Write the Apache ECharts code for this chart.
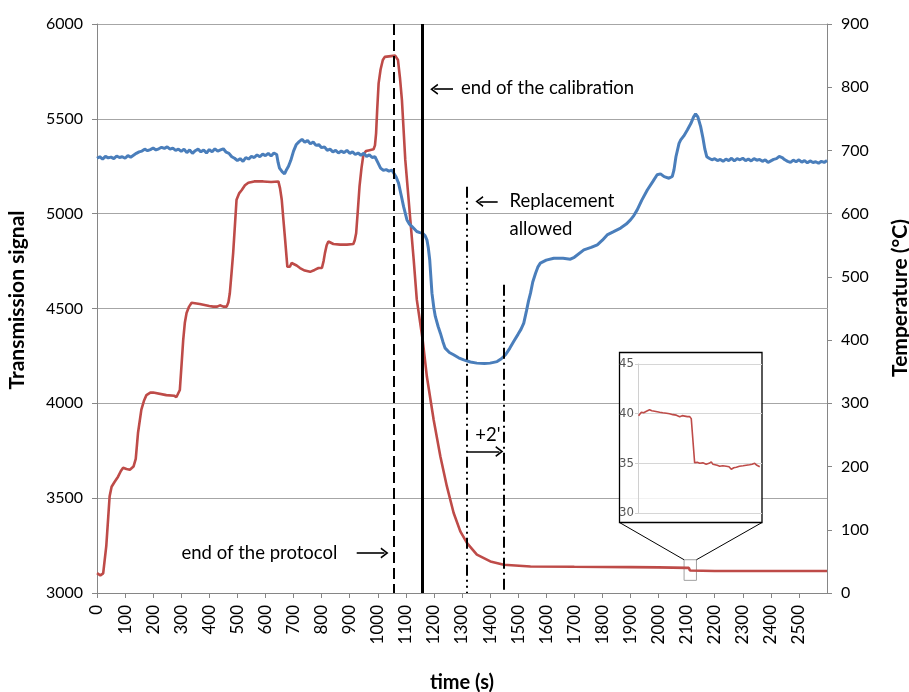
<!DOCTYPE html>
<html>
<head>
<meta charset="utf-8">
<script src="https://cdn.jsdelivr.net/npm/echarts@6/dist/echarts.min.js"></script>
<style>
html,body{margin:0;padding:0;background:#fff;}
#chart{width:909px;height:692px;}
</style>
</head>
<body>
<div id="chart"></div>
<script>
// ---- data (time in s) ----
const transmission = [
[0,5292],[10,5300],[20,5288],[30,5302],[40,5294],[50,5298],[60,5290],[70,5304],[80,5296],[90,5300],
[100,5292],[110,5306],[120,5298],[130,5308],[140,5318],[150,5326],[160,5330],[170,5340],[180,5332],[190,5338],
[200,5346],[210,5336],[220,5342],[230,5350],[240,5344],[250,5352],[260,5340],[270,5346],[280,5334],[290,5340],
[300,5328],[310,5340],[320,5322],[330,5336],[340,5318],[350,5332],[360,5340],[370,5326],[380,5336],[390,5320],
[400,5338],[410,5326],[420,5342],[430,5330],[440,5336],[450,5342],[460,5324],[470,5318],[480,5300],[490,5292],
[500,5280],[510,5290],[520,5276],[530,5296],[540,5288],[550,5302],[560,5296],[570,5310],[580,5300],[590,5314],
[600,5306],[610,5318],[620,5304],[630,5320],[640,5312],[645,5270],[650,5240],[660,5220],[668,5210],[675,5232],
[682,5250],[690,5280],[700,5330],[710,5365],[720,5380],[730,5392],[740,5376],[750,5386],[760,5368],[770,5378],
[780,5360],[790,5364],[800,5348],[810,5352],[820,5334],[830,5340],[840,5326],[850,5334],[860,5320],[870,5330],
[880,5322],[890,5334],[900,5318],[910,5326],[920,5312],[930,5320],[940,5308],[950,5318],[960,5302],[970,5310],
[980,5296],[990,5300],[1000,5270],[1010,5240],[1020,5228],[1030,5232],[1040,5224],[1050,5230],[1056,5222],[1065,5195],
[1074,5161],[1083,5100],[1092,5037],[1104,4967],[1113,4945],[1122,4932],[1139,4906],[1150,4900],[1160,4897],[1168,4885],
[1175,4862],[1180,4820],[1185,4757],[1193,4581],[1200,4500],[1205,4458],[1215,4405],[1223,4370],[1232,4325],[1240,4291],
[1255,4268],[1270,4256],[1288,4240],[1306,4229],[1330,4218],[1353,4212],[1380,4210],[1400,4212],[1425,4220],[1440,4235],
[1455,4256],[1470,4290],[1484,4326],[1500,4365],[1510,4390],[1520,4423],[1530,4490],[1537,4540],[1544,4581],[1552,4640],
[1562,4686],[1570,4718],[1579,4739],[1600,4755],[1627,4765],[1660,4765],[1686,4760],[1700,4770],[1734,4809],[1760,4822],
[1782,4836],[1800,4860],[1817,4888],[1840,4905],[1865,4924],[1885,4945],[1900,4967],[1912,4990],[1924,5020],[1940,5070],
[1960,5125],[1980,5170],[1995,5205],[2007,5210],[2020,5195],[2037,5187],[2049,5196],[2055,5231],[2062,5300],[2073,5371],
[2079,5389],[2090,5410],[2103,5442],[2115,5475],[2125,5510],[2132,5526],[2140,5510],[2150,5459],[2158,5400],[2165,5340],
[2172,5300],[2180,5292],[2190,5284],[2200,5290],[2210,5280],[2220,5286],[2230,5276],[2240,5288],[2250,5280],[2260,5292],
[2270,5278],[2280,5290],[2290,5284],[2300,5292],[2310,5280],[2320,5288],[2330,5278],[2340,5290],[2350,5282],[2360,5286],
[2370,5276],[2380,5284],[2390,5270],[2400,5278],[2410,5286],[2420,5290],[2430,5302],[2440,5296],[2450,5284],[2460,5276],
[2470,5270],[2480,5282],[2490,5274],[2500,5284],[2510,5272],[2520,5280],[2530,5268],[2540,5278],[2550,5270],[2560,5274],
[2570,5266],[2580,5276],[2590,5270],[2600,5280]
];

const temperature = [
[0,31.5],[12,28],[22,31],[33,74],[40,120],[45,153],[52,168],[63,176],[75,184],[85,193],
[93,198],[105,196],[117,195],[130,200],[138,212],[146,253],[158,290],[168,305],[176,313],[190,317],
[200,317],[247,313],[275,312],[283,310],[290,313],[295,321],[301,360],[307,400],[313,428],[319,443],
[328,453],[337,459],[366,457],[400,454],[414,453],[428,453],[438,455],[450,453],[462,453],[468,460],
[473,474],[479,505],[485,538],[491,580],[497,622],[506,632],[515,637],[527,645],[539,649],[560,651],
[592,651],[620,650],[646,651],[652,640],[658,622],[664,590],[670,559],[678,516],[687,516],[693,522],
[699,524],[711,518],[723,514],[740,510],[759,508],[775,511],[789,514],[801,514],[807,525],[812,538],
[818,550],[824,556],[842,552],[866,551],[890,551],[913,552],[918,558],[923,569],[929,605],[935,643],
[942,672],[949,694],[958,699],[967,700],[985,702],[990,708],[994,727],[998,765],[1003,806],[1010,828],
[1018,843],[1025,848],[1032,850],[1062,850],[1068,847],[1072,843],[1079,815],[1086,780],[1098,685],[1116,590],
[1128,527],[1139,464],[1160,400],[1175,342],[1199,274],[1223,216],[1246,169],[1270,127],[1294,97.5],[1318,79],
[1353,60.6],[1401,50],[1449,44.7],[1544,42],[1700,41.5],[1900,41],[2000,40.5],[2050,40.2],[2100,39.8],[2108,39.7],
[2112,35.5],[2116,35.1],[2200,34.8],[2300,34.8],[2400,34.8],[2500,34.7],[2600,34.7]
];

const insetTemperature = [
[2092.2,39.8],[2092.8,40.0],[2093.2,40.15],[2094.0,40.1],[2095.0,40.25],[2095.6,40.2],[2096.1,40.4],[2096.9,40.3],
[2097.9,40.25],[2098.8,40.2],[2099.7,40.15],[2100.8,40.1],[2102.1,40.05],[2103.2,40.0],[2104.4,39.9],[2105.6,39.85],
[2106.8,39.7],[2107.7,39.8],[2108.6,39.75],[2109.5,39.7],[2110.3,39.72],[2110.9,39.5],[2112.1,35.05],[2113.0,35.1],
[2113.9,35.0],[2115.0,35.05],[2116.2,34.9],[2117.2,35.0],[2118.0,35.15],[2118.6,34.9],[2119.2,34.75],[2120.1,34.8],
[2121.0,34.7],[2122.1,34.75],[2123.3,34.7],[2124.3,34.65],[2125.1,34.4],[2126.0,34.55],[2126.9,34.6],[2128.0,34.7],
[2129.3,34.75],[2130.4,34.8],[2131.6,34.85],[2132.5,34.9],[2133.4,35.0],[2134.2,34.8],[2135.2,34.65]
];

// event markers (s)
const endProtocol = 1058;
const endCalibration = 1160;
const replacementAllowed = 1316;
const plusTwoMinutes = 1448;

const xTicks = {min: 0, max: 2600, step: 100};
const leftTicks = {min: 3000, max: 6000, step: 500};
const rightTicks = {min: 0, max: 900, step: 100};
const insetTicks = {min: 30, max: 45, step: 5};
const insetWindow = {t0: 2092, t1: 2136};

const FONT = 'Lato, "Open Sans", sans-serif';
const arrowHead = 'path://M0,10 L6,0 L12,10 L10.4,11 L6,3.6 L1.6,11 Z';
const plain = v => String(v);

const chart = echarts.init(document.getElementById('chart'), null, {renderer: 'canvas'});

const vline = (x, yTop, type, width) => [
  {coord: [x, yTop], symbol: 'none', lineStyle: {type: type, width: width, color: '#000'}},
  {coord: [x, leftTicks.min], symbol: 'none'}
];
const arrow = (x0, x1, y) => [
  {coord: [x0, y], symbol: 'none', lineStyle: {type: 'solid', width: 1.6, color: '#000'}},
  {coord: [x1, y], symbol: arrowHead, symbolSize: [11, 8]}
];

chart.setOption({
  animation: false,
  textStyle: {fontFamily: FONT},
  grid: [
    {left: 97, top: 24, width: 730, height: 569},
    {left: 638, top: 364, width: 124, height: 149, z: 5}
  ],
  xAxis: [
    {
      type: 'value', gridIndex: 0, min: xTicks.min, max: xTicks.max, interval: xTicks.step,
      axisLine: {lineStyle: {color: '#868686', width: 1}},
      axisTick: {show: true, length: 5, lineStyle: {color: '#868686'}},
      splitLine: {show: false},
      axisLabel: {rotate: 90, fontSize: 17, color: '#000', margin: 12, showMaxLabel: false, fontFamily: FONT, formatter: plain}
    },
    {
      type: 'value', gridIndex: 1, min: insetWindow.t0, max: insetWindow.t1,
      axisLine: {show: false}, axisTick: {show: false}, axisLabel: {show: false}, splitLine: {show: false}, z: 5
    }
  ],
  yAxis: [
    {
      type: 'value', gridIndex: 0, min: leftTicks.min, max: leftTicks.max, interval: leftTicks.step,
      axisLine: {show: true, lineStyle: {color: '#868686'}},
      axisTick: {show: true, length: 5, lineStyle: {color: '#868686'}},
      splitLine: {show: true, lineStyle: {color: '#A6A6A6', width: 1}},
      axisLabel: {fontSize: 16, color: '#000', margin: 14, fontFamily: FONT, formatter: plain}
    },
    {
      type: 'value', gridIndex: 0, position: 'right', min: rightTicks.min, max: rightTicks.max, interval: rightTicks.step,
      axisLine: {show: true, lineStyle: {color: '#868686'}},
      axisTick: {show: true, length: 5, lineStyle: {color: '#868686'}},
      splitLine: {show: false},
      axisLabel: {fontSize: 16, color: '#000', margin: 14, fontFamily: FONT, formatter: plain}
    },
    {
      type: 'value', gridIndex: 1, min: insetTicks.min, max: insetTicks.max, interval: insetTicks.step, z: 5,
      axisLine: {show: true, lineStyle: {color: '#D0D0D0'}},
      axisTick: {show: true, length: 3, lineStyle: {color: '#D0D0D0'}},
      splitLine: {show: true, lineStyle: {color: '#D6D6D6', width: 1}},
      axisLabel: {fontSize: 13, color: '#555', margin: 4, fontFamily: '"Liberation Sans Narrow", "DejaVu Sans Condensed", sans-serif'}
    }
  ],
  series: [
    {
      name: 'Transmission signal', type: 'line', xAxisIndex: 0, yAxisIndex: 0,
      data: transmission, showSymbol: false, z: 3,
      lineStyle: {color: '#4A7EBB', width: 3}, itemStyle: {color: '#4A7EBB'},
      markLine: {
        silent: true, animation: false, symbol: 'none', label: {show: false},
        data: [
          vline(endProtocol, leftTicks.max, [11, 5], 2),
          vline(endCalibration, leftTicks.max, 'solid', 3),
          vline(replacementAllowed, 5142, [11, 4, 2, 4, 2, 4], 2),
          vline(plusTwoMinutes, 4625, [11, 4, 2, 4], 2),
          arrow(1268, 1201, 5656),
          arrow(1427, 1362, 5064),
          arrow(1318, 1433, 3746),
          arrow(925, 1024, 3211)
        ]
      }
    },
    {
      name: 'Temperature', type: 'line', xAxisIndex: 0, yAxisIndex: 1,
      data: temperature, showSymbol: false, z: 2,
      lineStyle: {color: '#BE4B48', width: 2.6}, itemStyle: {color: '#BE4B48'}
    },
    {
      name: 'Temperature (zoom)', type: 'line', xAxisIndex: 1, yAxisIndex: 2,
      data: insetTemperature, showSymbol: false, z: 6,
      lineStyle: {color: '#BE4B48', width: 1.6}, itemStyle: {color: '#BE4B48'}
    }
  ]
});

// annotations placed in data coordinates
function px(t, v, right) {
  return chart.convertToPixel({xAxisIndex: 0, yAxisIndex: right ? 1 : 0}, [t, v]);
}
const texts = [
  {t: 1296, v: 5663, s: 'end of the calibration'},
  {t: 1469, v: 5067, s: 'Replacement'},
  {t: 1469, v: 4920, s: 'allowed'},
  {t: 1347, v: 3834, s: "+2'"},
  {t: 301, v: 3212, s: 'end of the protocol'}
];
const elements = [
  {type: 'text', x: 17, y: 300, rotation: Math.PI / 2, style: {text: 'Transmission signal', font: 'bold 21px ' + FONT, fill: '#000', textAlign: 'center', textVerticalAlign: 'middle'}},
  {type: 'text', x: 900, y: 298, rotation: Math.PI / 2, style: {text: 'Temperature (°C)', font: 'bold 21px ' + FONT, fill: '#000', textAlign: 'center', textVerticalAlign: 'middle'}},
  {type: 'text', x: 462, y: 683, style: {text: 'time (s)', font: 'bold 20px ' + FONT, fill: '#000', textAlign: 'center', textVerticalAlign: 'middle'}},
  {type: 'rect', z: 1, shape: {x: 619.5, y: 352.5, width: 142.5, height: 170}, style: {fill: 'rgba(255,255,255,0.85)', stroke: '#000', lineWidth: 1.3}}
];
texts.forEach(o => {
  const p = px(o.t, o.v);
  elements.push({type: 'text', z: 4, x: p[0], y: p[1], style: {text: o.s, font: '18.5px ' + FONT, fill: '#000', textAlign: 'left', textVerticalAlign: 'middle'}});
});
// zoom box on the main curve and connector lines
const b0 = px(insetWindow.t0 - 1, 52.6, true);
const b1 = px(insetWindow.t1 - 1, 20, true);
elements.push({type: 'rect', z: 1, shape: {x: b0[0], y: b0[1], width: b1[0] - b0[0], height: b1[1] - b0[1]}, style: {fill: 'none', stroke: '#A0A0A0', lineWidth: 1}});
elements.push({type: 'line', z: 1, shape: {x1: 619.5, y1: 522.5, x2: b0[0], y2: b0[1]}, style: {stroke: '#000', lineWidth: 1}});
elements.push({type: 'line', z: 1, shape: {x1: 762, y1: 522.5, x2: b1[0], y2: b0[1]}, style: {stroke: '#000', lineWidth: 1}});
chart.setOption({graphic: {elements: elements}});
</script>
</body>
</html>
